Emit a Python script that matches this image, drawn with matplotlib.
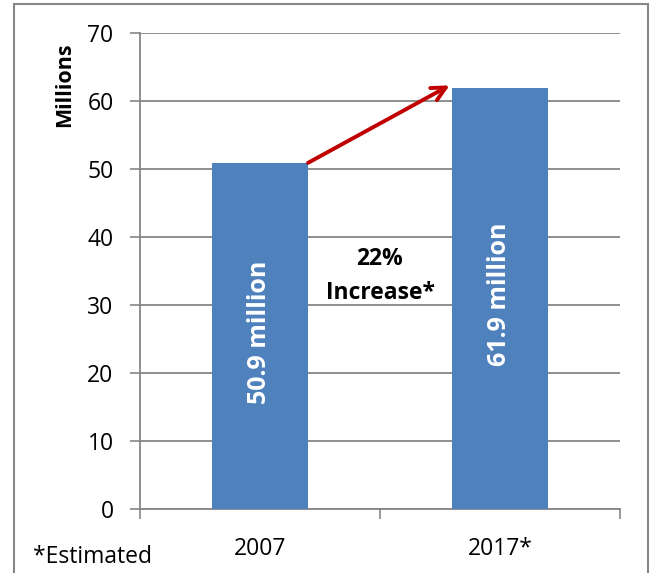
import matplotlib.pyplot as plt
from matplotlib.patches import Rectangle

plt.rcParams['font.family'] = ['Open Sans', 'DejaVu Sans']

years = ['2007', '2017*']
values = [50.9, 61.9]
bar_labels = ['50.9 million', '61.9 million']
yticks = [0, 10, 20, 30, 40, 50, 60, 70]

blue = '#4F81BD'
grey = '#868686'

fig = plt.figure(figsize=(6.51, 5.73), dpi=100)
ax = fig.add_axes([140 / 651, 1 - 509 / 573, 480 / 651, 476 / 573])

x = list(range(len(years)))
ax.bar(x, values, width=0.4, color=blue, zorder=3)

ax.set_xlim(-0.5, 1.5)
ax.set_ylim(0, 70)
ax.set_yticks(yticks)
ax.tick_params(axis='y', labelsize=16.5, length=7, color=grey, width=1.2, pad=12)
ax.yaxis.grid(True, color=grey, linewidth=1.3, zorder=0)

# ticks between categories, labels under the bars
ax.set_xticks([-0.5, 0.5, 1.5])
ax.set_xticklabels([])
ax.tick_params(axis='x', which='major', length=7, color=grey, width=1.2)
ax.set_xticks(x, minor=True)
ax.set_xticklabels(years, minor=True)
ax.tick_params(axis='x', which='minor', length=0, labelsize=16.5, pad=20)

for s in ['top', 'right']:
    ax.spines[s].set_visible(False)
for s in ['left', 'bottom']:
    ax.spines[s].set_color(grey)
    ax.spines[s].set_linewidth(1.3)

fig.text(65 / 651, 1 - 85 / 573, 'Millions', rotation=90, ha='center', va='center',
         fontsize=15.5, fontweight='bold')

for xi, v, lab in zip(x, values, bar_labels):
    ax.text(xi, v / 2 + 0.6, lab, rotation=90, ha='center', va='center',
            color='white', fontsize=18, fontweight='bold', zorder=4)

# growth arrow
ax.annotate('', xy=(0.79, values[1] + 0.4), xytext=(0.2, values[0]),
            arrowprops=dict(arrowstyle='->,head_length=1.0,head_width=0.5',
                            color='#C00000', lw=2.8, shrinkA=0, shrinkB=0),
            zorder=5)

pct = round((values[1] - values[0]) / values[0] * 100)
ax.text(0.5, 34.3, f'{pct}%\nIncrease*', ha='center', va='center',
        fontsize=16.5, fontweight='bold', linespacing=1.55, zorder=4)

fig.text(33 / 651, 1 - 557 / 573, '*Estimated', fontsize=16.5, va='center')

fig.patches.append(Rectangle((14 / 651, -0.05), 634 / 651, 1 - 4 / 573 + 0.05,
                             transform=fig.transFigure, fill=False,
                             edgecolor=grey, linewidth=1.5))

fig.savefig('out.png', dpi=100)
